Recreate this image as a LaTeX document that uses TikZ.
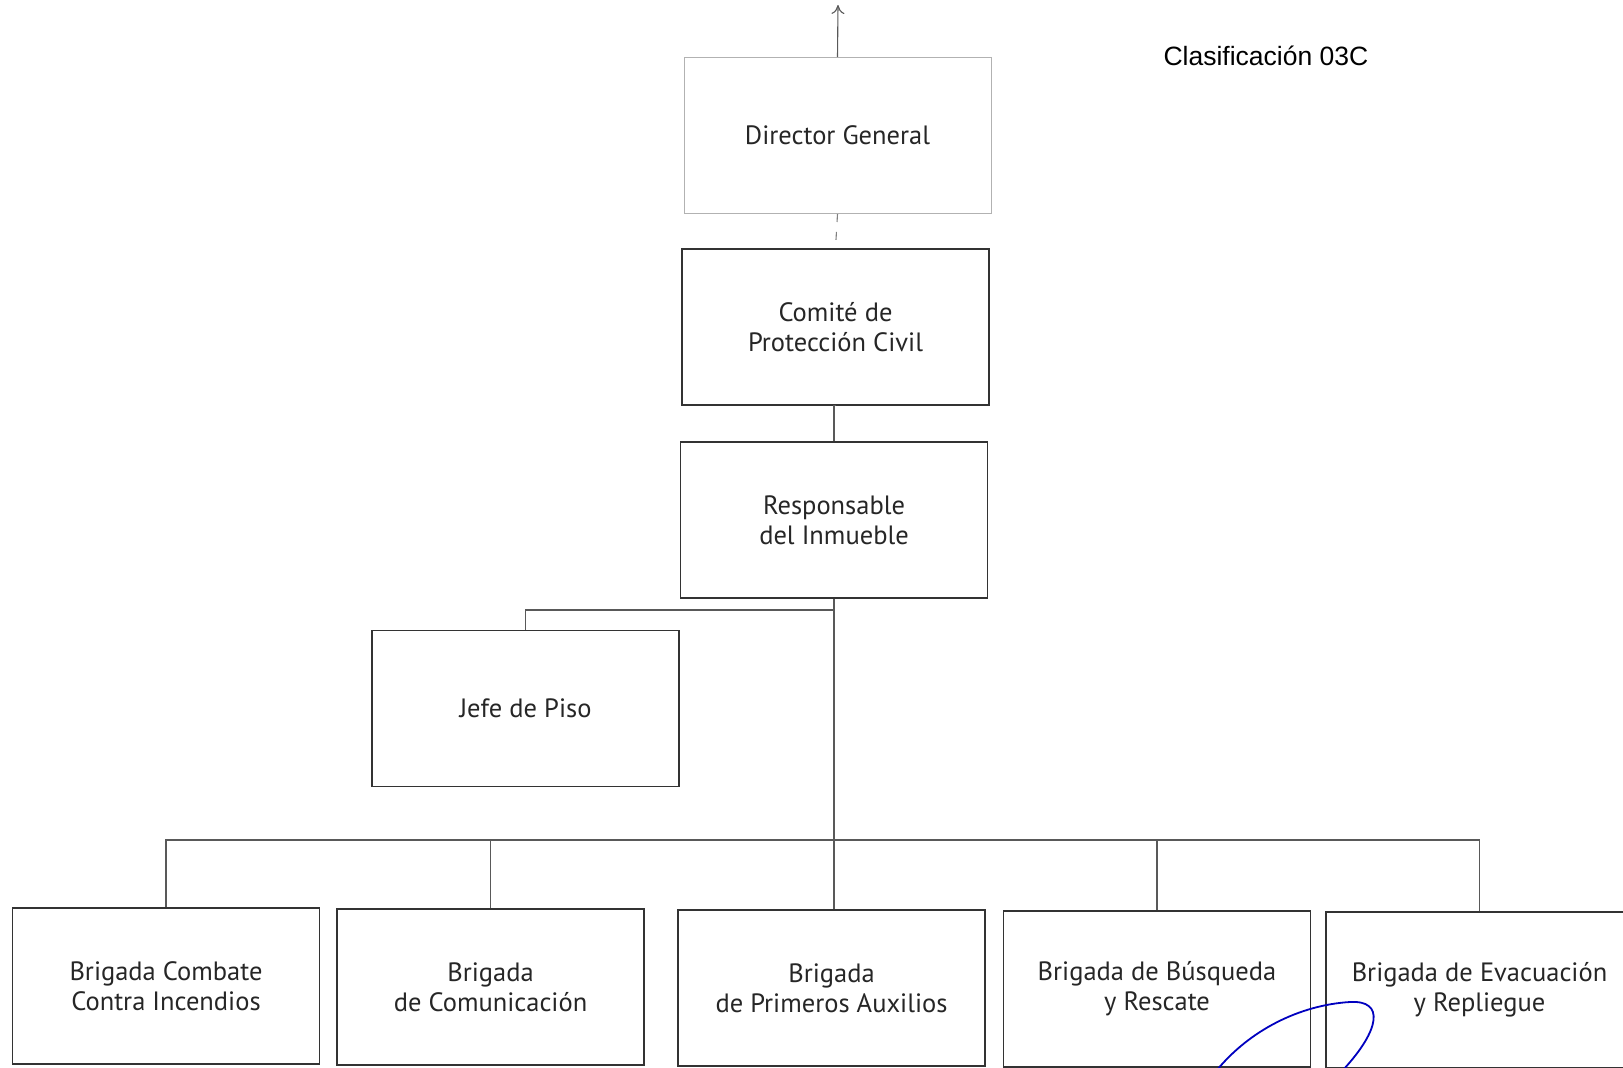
\documentclass[tikz,border=0pt]{standalone}
\usepackage{fontspec}
\newfontfamily\boxfont{PT Sans}
\newfontfamily\tagfont{Liberation Sans}
\usetikzlibrary{arrows.meta}
\tikzset{
  cargo/.style={draw=black!80, line width=1.6pt, rectangle, inner sep=0pt,
    minimum width=307pt, minimum height=156pt, align=center,
    font=\boxfont\fontsize{26.5}{30}\selectfont, text=black!85},
  liga/.style={draw=black!65, line width=1.1pt},
}
\begin{document}
\begin{tikzpicture}[x=1pt,y=-1pt]
    \useasboundingbox (0,0) rectangle (1623,1068);
    \clip (0,0) rectangle (1623,1068);
    % cadena de mando
    \node[cargo, draw=black!30, line width=1pt] (dir) at (837.5,135.5) {Director General};
    \node[cargo] (comite) at (835.5,327) {Comité de\\Protección Civil};
    \node[cargo] (resp) at (834,520) {Responsable\\del Inmueble};
    \node[cargo] (jefe) at (525.5,708.5) {Jefe de Piso};
    % brigadas
    \node[cargo] (b1) at (166,986) {Brigada Combate\\Contra Incendios};
    \node[cargo] (b2) at (490.5,987) {Brigada\\de Comunicación};
    \node[cargo] (b3) at (831.5,988) {Brigada\\de Primeros Auxilios};
    \node[cargo] (b4) at (1157,989) {Brigada de Búsqueda\\y Rescate};
    \node[cargo] (b5) at (1479.5,990) {Brigada de Evacuación\\y Repliegue};
    \node[font=\tagfont\fontsize{26.5}{30}\selectfont, anchor=west] (clasif) at (1160,56) {Clasificación 03C};
    % lineas
    \coordinate (top) at (838,5);
    \coordinate (rama) at (834,610);
    \coordinate (bus) at (834,840);
    \draw[liga, -{To[length=9pt,width=13pt]}] (dir.north) -- (top);
    \draw[liga, draw=black!50, dash pattern=on 8pt off 10pt] (dir.south) -- (comite.north);
    \draw[liga] (comite.south) -- (resp.south |- comite.south) -- (resp.north);
    \draw[liga] (resp.south) -- (resp.south |- b3.north);
    \draw[liga] (rama) -| (jefe.north);
    \draw[liga] (b1.north) -- (b1.north |- bus) -- (b5.north |- bus) -- (b5.north);
    \foreach \b in {b2,b4}{%
      \draw[liga] (\b.north |- bus) -- (\b.north);
    }
    % firma
    \draw[blue!75!black, line width=1.8pt] (1217,1070) .. controls (1250,1030) and (1300,1005) .. (1350,1002)
      .. controls (1385,1000) and (1380,1030) .. (1343,1070);
\end{tikzpicture}
\end{document}
